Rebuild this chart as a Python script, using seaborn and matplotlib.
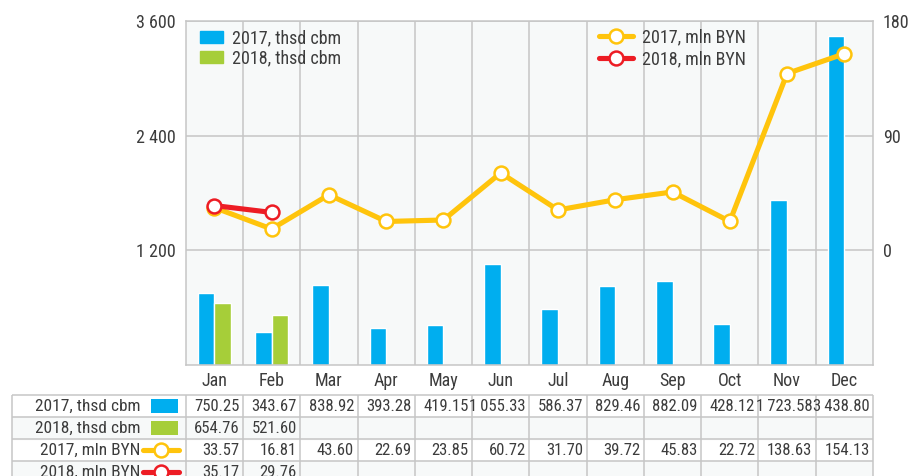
import matplotlib
matplotlib.use('Agg')  # no display
import matplotlib.pyplot as plt
from matplotlib import font_manager
import seaborn as sns
import pandas as pd
import numpy as np
from matplotlib.lines import Line2D
from matplotlib.patches import Patch, Rectangle

# ---- data ----
months = ['Jan', 'Feb', 'Mar', 'Apr', 'May', 'Jun', 'Jul', 'Aug', 'Sep', 'Oct', 'Nov', 'Dec']
cbm_2017 = [750.25, 343.67, 838.92, 393.28, 419.15, 1055.33, 586.37, 829.46, 882.09, 428.12, 1723.58, 3438.80]
cbm_2018 = [654.76, 521.60]
byn_2017 = [33.57, 16.81, 43.60, 22.69, 23.85, 60.72, 31.70, 39.72, 45.83, 22.72, 138.63, 154.13]
byn_2018 = [35.17, 29.76]
series_labels = ['2017, thsd cbm', '2018, thsd cbm', '2017, mln BYN', '2018, mln BYN']
left_ticks = [1200, 2400, 3600]
right_ticks = [0, 90, 180]

BLUE = '#00AEEF'
GREEN = '#A6CE39'
YELLOW = '#FFC40C'
RED = '#ED1C24'
GRID = '#C6C6C6'
BG = '#F7F9F9'
TXT = '#3C3C3C'

sns.set_theme(style='white')

# pick a narrow face if one is installed
fonts = font_manager.fontManager.ttflist
names = {f.name for f in fonts}
stretch = 'normal'
if 'Liberation Sans Narrow' in names:
    family, FS = 'Liberation Sans Narrow', 12.5
elif 'Roboto Condensed' in names:
    family, FS = 'Roboto Condensed', 13
elif any(f.name == 'DejaVu Sans' and 'condensed' in str(f.stretch) for f in fonts):
    family, FS, stretch = 'DejaVu Sans', 11.5, 'condensed'
else:
    family, FS = 'Roboto', 11
plt.rcParams['font.family'] = [family, 'DejaVu Sans']
plt.rcParams['font.stretch'] = stretch
plt.rcParams['text.color'] = TXT
TFS = FS - 0.5  # table labels
NFS = FS - 1    # table numbers


def fmt_int(v):
    return f'{v:,}'.replace(',', ' ')


def fmt_val(v):
    return f'{v:,.2f}'.replace(',', '\u2009')


W, H = 916, 476
fig = plt.figure(figsize=(W / 100, H / 100), dpi=100)

# main plot area in pixels
L, R, T, B = 185.7, 873.0, 20.7, 365.3
ax = fig.add_axes([L / W, 1 - B / H, (R - L) / W, (B - T) / H])
ax.set_facecolor(BG)

df = pd.DataFrame(
    [(m, '2017', v) for m, v in zip(months, cbm_2017)]
    + [(m, '2018', v) for m, v in zip(months, cbm_2018)],
    columns=['month', 'year', 'value'],
)
sns.barplot(data=df, x='month', y='value', hue='year', order=months,
            hue_order=['2017', '2018'], palette=[BLUE, GREEN], saturation=1,
            width=0.58, gap=0, errorbar=None, legend=False, ax=ax)

ax2 = ax.twinx()
line_kw = dict(linewidth=3.7, marker='o', markersize=10,
               markerfacecolor='white', markeredgewidth=1.8)
sns.lineplot(x=list(range(len(byn_2017))), y=byn_2017, ax=ax2, color=YELLOW,
             markeredgecolor=YELLOW, **line_kw)
sns.lineplot(x=list(range(len(byn_2018))), y=byn_2018, ax=ax2, color=RED,
             markeredgecolor=RED, **line_kw)

ax.set_xlim(-0.5, 11.5)
ax.set_ylim(0, 3600)
ax2.set_ylim(-90, 180)
ax.set_xlabel('')
ax.set_ylabel('')
ax2.set_xlabel('')
ax2.set_ylabel('')

ax.set_xticks(range(len(months)))
ax.set_xticklabels(months)
ax.set_xticks(np.arange(0.5, 11, 1), minor=True)
ax.set_yticks(left_ticks)
ax.set_yticklabels([fmt_int(v) for v in left_ticks])
ax2.set_yticks(right_ticks)
ax2.set_yticklabels([fmt_int(v) for v in right_ticks])

ax.set_axisbelow(True)
ax.grid(axis='y', which='major', color=GRID, linewidth=1.1)
ax.grid(axis='x', which='minor', color=GRID, linewidth=1.1)
ax.grid(axis='x', which='major', visible=False)
ax.tick_params(axis='x', which='major', length=0, pad=5, labelsize=FS, labelcolor=TXT)
ax.tick_params(axis='x', which='minor', length=12.5, width=1.1, color=GRID, direction='out')
ax.tick_params(axis='y', length=0, pad=7, labelsize=FS, labelcolor=TXT)
ax2.tick_params(axis='y', length=0, pad=7, labelsize=FS, labelcolor=TXT)
for s in ax.spines.values():
    s.set_color(GRID)
    s.set_linewidth(1.1)
    s.set_visible(True)
for s in ax2.spines.values():
    s.set_visible(False)

# legends
bar_handles = [Patch(color=BLUE), Patch(color=GREEN)]
ax.legend(bar_handles, series_labels[:2], loc='upper left',
          bbox_to_anchor=((200 - L) / (R - L), 1 - (29 - T) / (B - T)),
          frameon=False, fontsize=FS, handlelength=1.3, handleheight=0.65,
          handletextpad=0.5, labelspacing=0.12, borderpad=0, borderaxespad=0)
line_handles = [Line2D([0], [0], color=c, markeredgecolor=c, **line_kw) for c in (YELLOW, RED)]
ax2.legend(line_handles, series_labels[2:], loc='upper left',
           bbox_to_anchor=((599 - L) / (R - L), 1 - (28.5 - T) / (B - T)),
           frameon=False, fontsize=FS, handlelength=1.9, numpoints=1,
           handletextpad=0.5, labelspacing=0.2, borderpad=0, borderaxespad=0)

# ---- data table below the chart ----
TL, TT, ROW = 12.0, 395.0, 22.0
n_rows = 4
cat_w = (R - L) / len(months)
x0 = -0.5 - (L - TL) / cat_w
tax = fig.add_axes([TL / W, 1 - (TT + ROW * n_rows) / H, (R - TL) / W, ROW * n_rows / H])
tax.set_xlim(x0, len(months) - 0.5)
tax.set_ylim(n_rows, 0)
tax.axis('off')


def px_to_x(px):
    return x0 + (px - TL) / cat_w


for r in range(n_rows):
    if r % 2 == 1:
        tax.axhspan(r, r + 1, color=BG, zorder=0)
tax.hlines(range(n_rows + 1), x0, len(months) - 0.5, color=GRID, linewidth=1.1, clip_on=False)
tax.vlines([x0] + list(np.arange(-0.5, len(months), 1)), 0, n_rows, color=GRID,
           linewidth=1.1, clip_on=False)

rows = [cbm_2017, cbm_2018, byn_2017, byn_2018]
for r, (label, vals) in enumerate(zip(series_labels, rows)):
    yc = r + 0.52
    tax.text(px_to_x(140), yc, label, ha='right', va='center', fontsize=TFS, color=TXT)
    for i, v in enumerate(vals):
        tax.text(i + 0.5 - 0.06, yc, fmt_val(v), ha='right', va='center',
                 fontsize=NFS, color=TXT)

# row keys
for r, c in enumerate([BLUE, GREEN]):
    tax.add_patch(Rectangle((px_to_x(151), r + 0.17), px_to_x(178) - px_to_x(151), 0.66,
                            color=c, linewidth=0))
for r, c in zip([2, 3], [YELLOW, RED]):
    tax.plot([px_to_x(143), px_to_x(179)], [r + 0.5, r + 0.5], color=c, linewidth=3.7,
             solid_capstyle='round')
    tax.plot([px_to_x(161)], [r + 0.5], color=c, marker='o', markersize=10,
             markerfacecolor='white', markeredgecolor=c, markeredgewidth=1.8)

fig.savefig('out.png', dpi=100)
